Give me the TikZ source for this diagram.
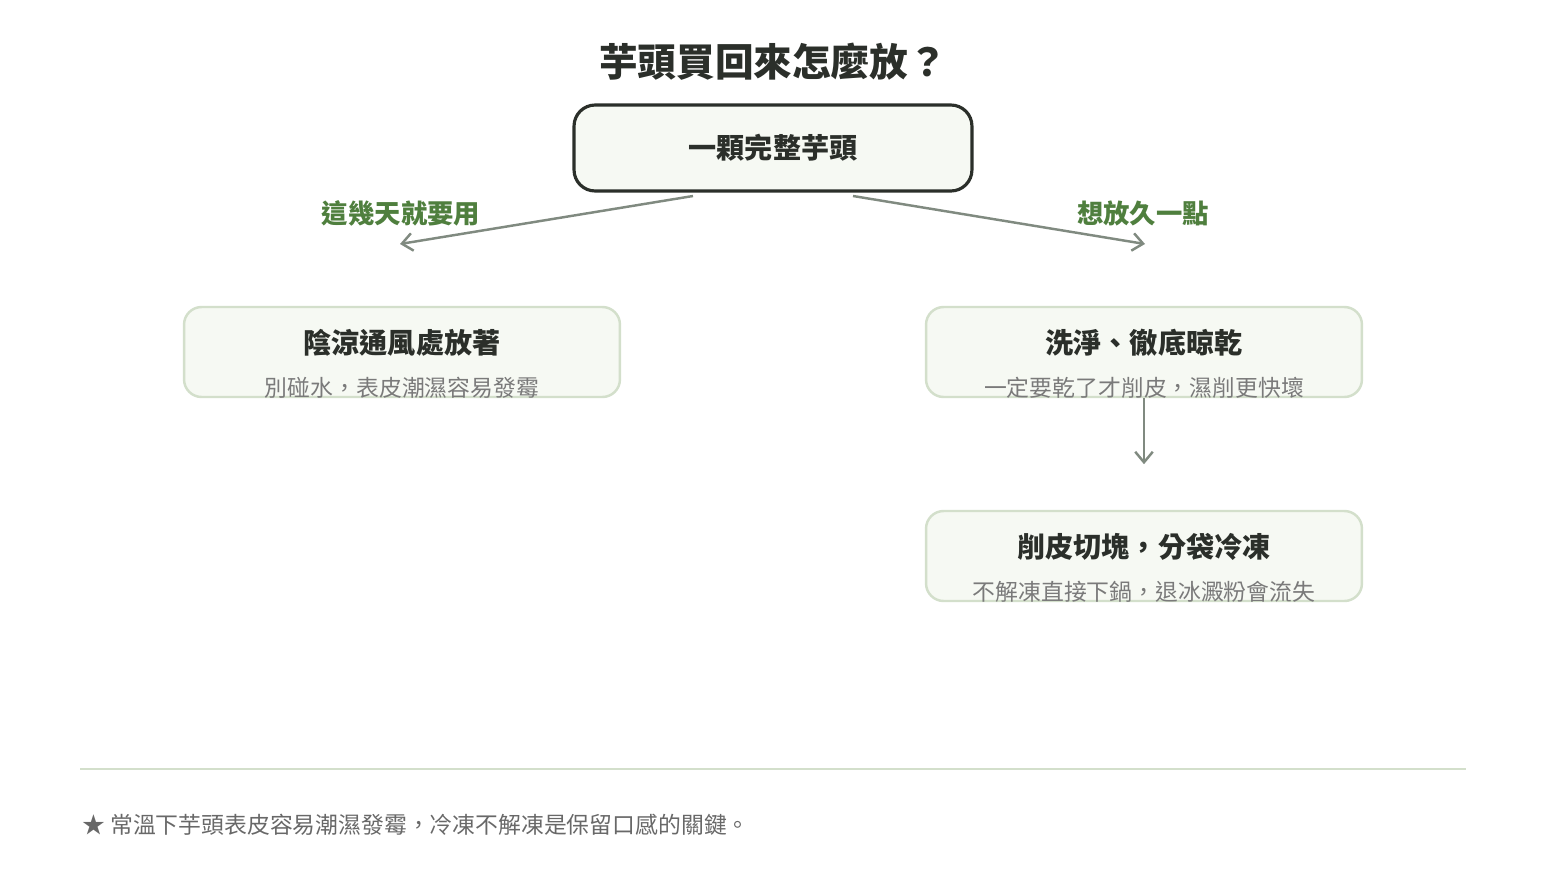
\documentclass[tikz,border=0pt]{standalone}
\usepackage{fontspec}
\setmainfont{Noto Sans CJK TC}
\usetikzlibrary{arrows.meta}
\definecolor{ink}{HTML}{2B2F2A}
\definecolor{boxfill}{HTML}{F6F9F3}
\definecolor{boxline}{HTML}{D3DFCB}
\definecolor{leaf}{HTML}{4F7F3E}
\definecolor{stem}{HTML}{808A80}
\definecolor{note}{HTML}{7A7A7A}
\tikzset{
  stage/.style={draw=boxline,line width=1.4pt,fill=boxfill,rounded corners=10pt,
    minimum width=8.72cm,minimum height=1.8cm},
  head/.style={font=\fontsize{16}{18}\selectfont\bfseries,text=ink},
  sub/.style={font=\fontsize{13}{15}\selectfont,text=note},
  way/.style={font=\fontsize{15}{17}\selectfont\bfseries,text=leaf},
  flow/.style={draw=stem,line width=1.4pt,-{Straight Barb[length=6pt,width=10pt]}}
}
\begin{document}
\begin{tikzpicture}[x=0.02cm,y=-0.02cm]
\useasboundingbox (0,0) rectangle (1546,880);

\node[font=\fontsize{22}{26}\selectfont\bfseries,text=ink] (title) at (773,62) {芋頭買回來怎麼放？};

\node[draw=ink,line width=1.8pt,fill=boxfill,rounded corners=12pt,
  minimum width=7.96cm,minimum height=1.72cm,head] (whole) at (773,148) {一顆完整芋頭};

\node[stage] (shade) at (402,352) {};
\node[head] (shadeT) at (402,343) {陰涼通風處放著};
\node[sub] (shadeS) at (402,388) {別碰水，表皮潮濕容易發霉};

\node[stage] (wash) at (1144,352) {};
\node[head] (washT) at (1144,343) {洗淨、徹底晾乾};
\node[sub] (washS) at (1144,388) {一定要乾了才削皮，濕削更快壞};

\node[stage] (cut) at (1144,556) {};
\node[head] (cutT) at (1144,547) {削皮切塊，分袋冷凍};
\node[sub] (cutS) at (1144,592) {不解凍直接下鍋，退冰澱粉會流失};

\coordinate (outL) at (693,196);
\coordinate (inL) at (400,244);
\coordinate (outR) at (853,196);
\coordinate (inR) at (1145,244);
\draw[flow] (outL) -- (inL);
\draw[flow] (outR) -- (inR);
\draw[flow] (wash.south) -- ++(0,66);

\node[way] (soon) at (401,213) {這幾天就要用};
\node[way] (later) at (1143,213) {想放久一點};

\coordinate (ruleL) at (80,769);
\coordinate (ruleR) at (1466,769);
\draw[boxline,line width=1pt] (ruleL) -- (ruleR);
\node[sub,anchor=west,text=note!85!black] (foot) at (76,825) {★ 常溫下芋頭表皮容易潮濕發霉，冷凍不解凍是保留口感的關鍵。};
\end{tikzpicture}
\end{document}
